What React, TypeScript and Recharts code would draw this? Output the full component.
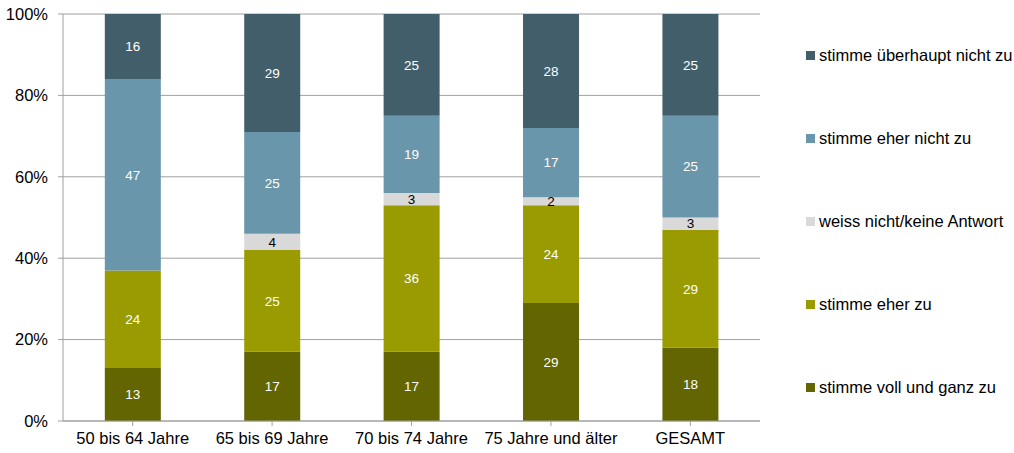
import React from 'react';
import { BarChart, Bar, XAxis, YAxis, CartesianGrid, LabelList } from 'recharts';

const categories = ['50 bis 64 Jahre', '65 bis 69 Jahre', '70 bis 74 Jahre', '75 Jahre und älter', 'GESAMT'];
const vollUndGanz = [13, 17, 17, 29, 18];
const eherZu = [24, 25, 36, 24, 29];
const weissNicht = [0, 4, 3, 2, 3];
const eherNicht = [47, 25, 19, 17, 25];
const ueberhauptNicht = [16, 29, 25, 28, 25];
const yTicks = [0, 20, 40, 60, 80, 100];

const seriesDefs = [
  { key: 'voll', name: 'stimme voll und ganz zu', color: '#636600', values: vollUndGanz, labelColor: '#ffffff' },
  { key: 'eher', name: 'stimme eher zu', color: '#999b00', values: eherZu, labelColor: '#ffffff' },
  { key: 'weiss', name: 'weiss nicht/keine Antwort', color: '#d9d9d9', values: weissNicht, labelColor: '#000000' },
  { key: 'ehernicht', name: 'stimme eher nicht zu', color: '#6a96ab', values: eherNicht, labelColor: '#ffffff' },
  { key: 'ueber', name: 'stimme überhaupt nicht zu', color: '#435e6b', values: ueberhauptNicht, labelColor: '#ffffff' },
];

const data = categories.map((c, i) => {
  const row: any = { name: c };
  seriesDefs.forEach((s) => { row[s.key] = s.values[i]; });
  return row;
});

const FONT = '"Liberation Sans", Arial, sans-serif';

const LegendBlock = () => (
  <div style={{ position: 'absolute', left: 806, top: 14, width: 208, fontFamily: FONT, fontSize: 16.5, color: '#000' }}>
    {[...seriesDefs].reverse().map((s) => (
      <div key={s.key} style={{ display: 'flex', alignItems: 'center', height: 83 }}>
        <span style={{ display: 'inline-block', width: 9, height: 9, background: s.color, marginRight: 4, flexShrink: 0 }} />
        <span style={{ whiteSpace: 'nowrap' }}>{s.name}</span>
      </div>
    ))}
  </div>
);

export default function App() {
  return (
    <div style={{ position: 'absolute', left: 0, top: 0, width: 1014, height: 453, background: '#fff', overflow: 'hidden' }}>
      <BarChart
        width={1014}
        height={453}
        data={data}
        margin={{ top: 14, right: 254, left: 0, bottom: 2 }}
        barCategoryGap="30%"
      >
        <CartesianGrid vertical={false} stroke="#a0a0a0" />
        <XAxis
          dataKey="name"
          height={30}
          stroke="#a0a0a0"
          tickSize={5}
          tickMargin={6}
          interval={0}
          tick={{ fill: '#000', fontSize: 16.5, fontFamily: FONT }}
        />
        <YAxis
          width={63}
          domain={[0, 100]}
          ticks={yTicks}
          tickFormatter={(v: number) => `${v}%`}
          stroke="#a0a0a0"
          tickSize={5}
          tickMargin={10}
          tick={{ fill: '#000', fontSize: 16.5, fontFamily: FONT }}
        />
        {seriesDefs.map((s) => (
          <Bar key={s.key} dataKey={s.key} name={s.name} stackId="a" fill={s.color} isAnimationActive={false}>
            <LabelList
              dataKey={s.key}
              position="center"
              formatter={(v: any) => (v ? String(v) : '')}
              fill={s.labelColor}
              style={{ fontSize: 13.5, fontFamily: FONT }}
            />
          </Bar>
        ))}
      </BarChart>
      <LegendBlock />
    </div>
  );
}
